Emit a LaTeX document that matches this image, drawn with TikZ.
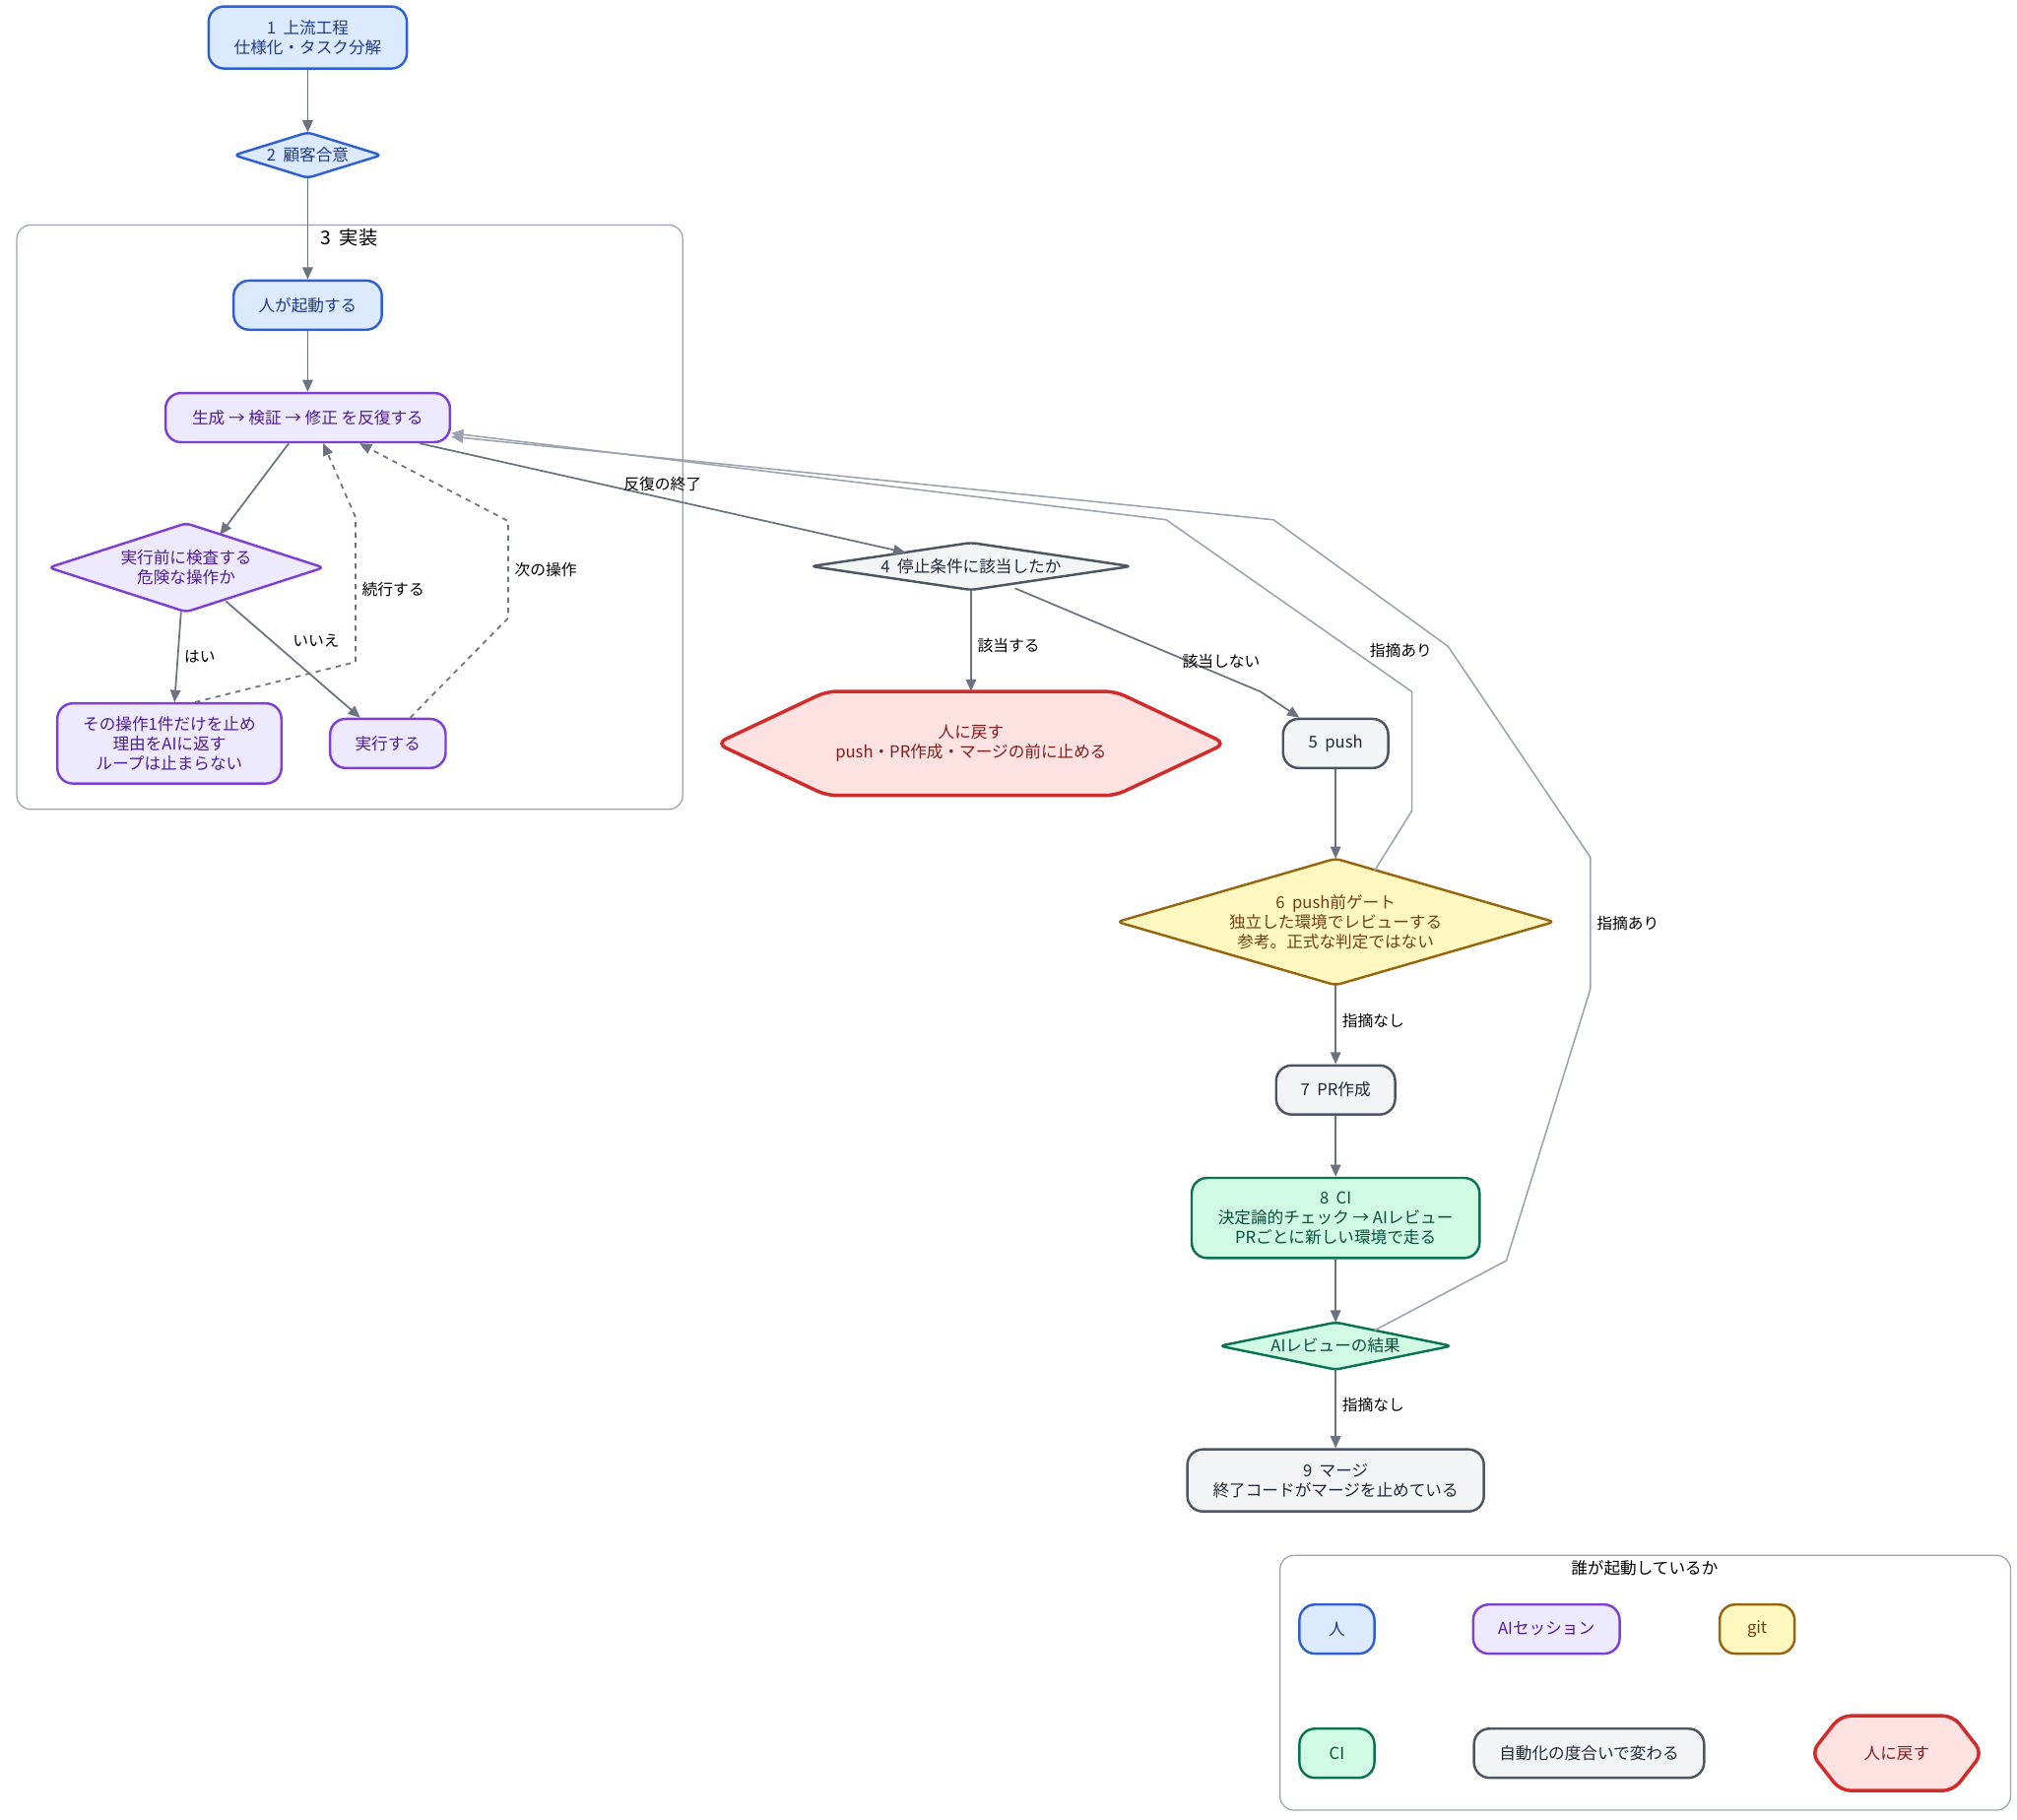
\documentclass[tikz,border=0pt]{standalone}
\usepackage{fontspec}
\setmainfont{Noto Sans CJK JP}
\usepackage{tikz}
\usetikzlibrary{positioning,arrows.meta,backgrounds}

\definecolor{humF}{HTML}{DBEAFE}\definecolor{humD}{HTML}{2F5FD0}\definecolor{humT}{HTML}{1E3A8A}
\definecolor{aiF}{HTML}{EDE9FE}\definecolor{aiD}{HTML}{7E3FD4}\definecolor{aiT}{HTML}{4C1D95}
\definecolor{gitF}{HTML}{FEF8C0}\definecolor{gitD}{HTML}{95650F}\definecolor{gitT}{HTML}{713F12}
\definecolor{ciF}{HTML}{D1FAE5}\definecolor{ciD}{HTML}{0B7352}\definecolor{ciT}{HTML}{064E3B}
\definecolor{autoF}{HTML}{F3F4F6}\definecolor{autoD}{HTML}{4B5563}\definecolor{autoT}{HTML}{1F2937}
\definecolor{backF}{HTML}{FEE2E2}\definecolor{backD}{HTML}{D12C2C}\definecolor{backT}{HTML}{7F1D1D}
\definecolor{edgeC}{HTML}{6B7280}\definecolor{loopC}{HTML}{9CA3AF}

\tikzset{
  box/.style={rectangle, rounded corners=9pt, line width=1.4pt, align=center, inner sep=0},
  txt/.style={rectangle, align=center, inner sep=0},
  hum/.style={fill=humF, draw=humD, text=humT},
  ai/.style={fill=aiF, draw=aiD, text=aiT},
  git/.style={fill=gitF, draw=gitD, text=gitT},
  ci/.style={fill=ciF, draw=ciD, text=ciT},
  auto/.style={fill=autoF, draw=autoD, text=autoT},
  back/.style={fill=backF, draw=backD, text=backT, line width=2pt, rounded corners=6pt},
  dia/.style={line width=1.4pt, rounded corners=3pt},
  flow/.style={draw=edgeC, line width=1pt, -{Triangle[length=7pt,width=6pt]}},
  again/.style={draw=loopC, line width=0.9pt, -{Triangle[length=7pt,width=6pt]}},
  lbl/.style={text=black, font=\fontsize{9}{10}\selectfont},
  group/.style={draw=loopC, rounded corners=8pt, line width=0.7pt},
}

\begin{document}
\begin{tikzpicture}[x=0.75pt, y=-0.75pt, font=\fontsize{9.5}{11.5}\selectfont]
\useasboundingbox (0,0) rectangle (1560,1407);

% groups
\draw[group] (13,174) rectangle (528,626);
\node at (270,184) (gt) {\fontsize{11}{13}\selectfont 3\ \ 実装};
\draw[group] (990,1203) rectangle (1555,1400);
\node at (1272,1213) (lt) {誰が起動しているか};

% nodes
\node[box, hum, minimum width=115pt, minimum height=36pt] at (238,29) (n1) {1\ \ 上流工程\\仕様化・タスク分解};
\node[txt, text=humT, minimum width=85pt, minimum height=26pt] at (238,120) (n2) {2\ \ 顧客合意};
\node[box, hum, minimum width=86pt, minimum height=28.5pt] at (238,236) (start) {人が起動する};
\node[box, ai, minimum width=165pt, minimum height=28.5pt] at (238,323) (loop) {生成 → 検証 → 修正 を反復する};
\node[txt, text=aiT, minimum width=159pt, minimum height=51pt] at (144,439) (check) {実行前に検査する\\危険な操作か};
\node[box, ai, minimum width=130pt, minimum height=46.5pt] at (131,575) (stop) {その操作1件だけを止め\\理由をAIに返す\\ループは止まらない};
\node[box, ai, minimum width=67pt, minimum height=28.5pt] at (300,575) (run) {実行する};
\node[txt, text=autoT, minimum width=185pt, minimum height=27pt] at (751,438) (n4) {4\ \ 停止条件に該当したか};
\node[txt, text=backT, minimum width=295pt, minimum height=60pt] at (751,575) (ret) {人に戻す\\push・PR作成・マージの前に止める};
\node[box, auto, minimum width=61pt, minimum height=28.5pt] at (1033,575) (n5) {5\ \ push};
\node[txt, text=gitT, minimum width=253pt, minimum height=73pt] at (1033,713) (n6) {6\ \ push前ゲート\\独立した環境でレビューする\\参考。正式な判定ではない};
\node[box, auto, minimum width=69pt, minimum height=28.5pt] at (1033,843) (n7) {7\ \ PR作成};
\node[box, ci, minimum width=167pt, minimum height=46.5pt] at (1033,942) (n8) {8\ \ CI\\決定論的チェック → AIレビュー\\PRごとに新しい環境で走る};
\node[txt, text=ciT, minimum width=134pt, minimum height=27pt] at (1033,1041) (res) {AIレビューの結果};
\node[box, auto, minimum width=172pt, minimum height=36pt] at (1033,1145) (n9) {9\ \ マージ\\終了コードがマージを止めている};

% legend
\node[box, hum, minimum width=43.5pt, minimum height=28.5pt] at (1034,1260) (lg1) {人};
\node[box, ai, minimum width=85pt, minimum height=28.5pt] at (1196,1260) (lg2) {AIセッション};
\node[box, git, minimum width=43.5pt, minimum height=28.5pt] at (1359,1260) (lg3) {git};
\node[box, ci, minimum width=43.5pt, minimum height=28.5pt] at (1034,1356) (lg4) {CI};
\node[box, auto, minimum width=133.5pt, minimum height=28.5pt] at (1229,1356) (lg5) {自動化の度合いで変わる};
\node[txt, text=backT, minimum width=99pt, minimum height=43pt] at (1467,1356) (lg6) {人に戻す};

\begin{scope}[on background layer]
\foreach \h/\i in {ret/64pt, lg6/17pt} {
  \draw[back] (\h.west) -- ([xshift=\i]\h.north west) -- ([xshift=-\i]\h.north east) -- (\h.east)
    -- ([xshift=-\i]\h.south east) -- ([xshift=\i]\h.south west) -- cycle;
};
\foreach \d/\s in {n2/hum, check/ai, n4/auto, n6/git, res/ci} {
  \draw[dia, \s] (\d.west) -- (\d.north) -- (\d.east) -- (\d.south) -- cycle;
};
\end{scope}

% connectors
\draw[flow] (n1) -- (n2);
\draw[flow] (n2) -- (start);
\draw[flow] (start) -- (loop);
\draw[flow] ([xshift=-11pt]loop.south) -- ([xshift=19.5pt,yshift=19pt]check.center);
\draw[flow] ([xshift=-3pt]check.south) -- node[lbl, right] {はい} ([xshift=3pt]stop.north);
\draw[flow] ([xshift=23pt,yshift=-19.5pt]check.center) -- node[lbl, above right, pos=.45] {いいえ} ([xshift=-16pt]run.north);
\draw[flow, dashed] ([xshift=15pt]stop.north) -- (275,512) -- node[lbl, right] {続行する} (275,400) -- ([xshift=9pt]loop.south);
\draw[flow, dashed] ([xshift=13pt]run.north) -- (393,478) -- node[lbl, right] {次の操作} (393,403) -- ([xshift=30pt]loop.south);
\draw[flow] ([xshift=65pt]loop.south) -- node[lbl, above, pos=.5] {反復の終了} ([xshift=-38pt,yshift=8pt]n4.center);
\draw[flow] (n4.south) -- node[lbl, right, pos=.55] {該当する} (ret.north);
\draw[flow] ([xshift=25.5pt,yshift=-12.75pt]n4.center) -- node[lbl, above, pos=.84] {該当しない} (975,535) -- ([xshift=-21pt]n5.north);
\draw[flow] (n5) -- (n6.north);
\draw[flow] (n6.south) -- node[lbl, right, pos=.45] {指摘なし} (n7);
\draw[flow] (n7) -- (n8);
\draw[flow] (n8) -- (res.north);
\draw[flow] (res.south) -- node[lbl, right, pos=.45] {指摘なし} (n9);
\draw[again] ([xshift=22.5pt,yshift=29.5pt]n6.center) -- (1092,627) -- (1092,535) -- node[lbl, right, pos=.24, xshift=6pt] {指摘あり} (902,402) -- ([yshift=-9pt]loop.east);
\draw[again] ([xshift=22.5pt,yshift=9pt]res.center) -- (1165,975) -- (1230,765) -- node[lbl, right] {指摘あり} (1230,663) -- (1120,500) -- (985,402) -- ([yshift=-11pt]loop.east);
\end{tikzpicture}
\end{document}
